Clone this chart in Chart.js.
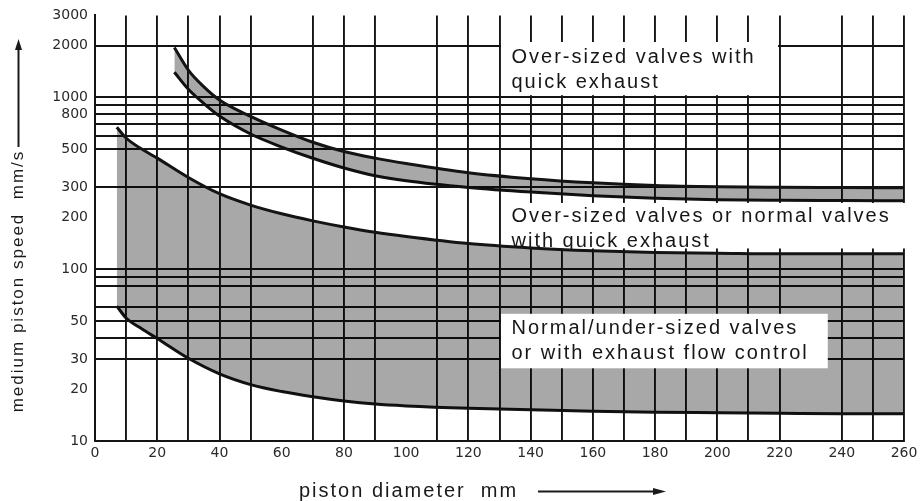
<!DOCTYPE html>
<html>
<head>
<meta charset="utf-8">
<script src="https://cdn.jsdelivr.net/npm/chart.js@4.4.1/dist/chart.umd.min.js"></script>
<style>
  html, body { margin: 0; padding: 0; background: #ffffff; }
  #wrap { width: 923px; height: 501px; }
</style>
</head>
<body>
<div id="wrap"><canvas id="c" width="923" height="501"></canvas></div>
<script>
// ---- data ----
const upperBandX      = [25.5, 30, 35, 40, 50, 60, 70, 80, 90, 100, 120, 140, 160, 180, 200, 220, 240, 260];
const upperBandTop    = [1950, 1440, 1150, 965, 775, 645, 548, 484, 443, 412, 364, 336, 318, 307, 302, 300, 299, 298];
const upperBandBottom = [1400, 1115, 920, 778, 612, 514, 442, 388, 350, 327, 299, 281, 268, 259, 254, 252, 251, 250];

const lowerBandX      = [7, 10, 15, 20, 30, 40, 50, 60, 70, 80, 90, 100, 120, 140, 160, 180, 200, 220, 240, 260];
const lowerBandTop    = [670, 580, 500, 443, 342, 275, 236, 210, 191, 176, 164, 155, 141, 133, 128, 125, 124, 123, 123, 123];
const lowerBandBottom = [61, 52, 45, 39.5, 30.3, 24.6, 21.3, 19.4, 18.1, 17.1, 16.4, 16.0, 15.5, 15.2, 14.9, 14.7, 14.6, 14.5, 14.4, 14.4];

const xLabelValues = [0, 20, 40, 60, 80, 100, 120, 140, 160, 180, 200, 220, 240, 260];
const xNoGridValues = [60, 100, 230];
const yTickValues  = [10, 20, 30, 40, 50, 60, 80, 90, 100, 200, 300, 500, 600, 700, 800, 900, 1000, 2000, 3000];
const yLabelValues = [10, 20, 30, 50, 100, 200, 300, 500, 800, 1000, 2000, 3000];
const yGridValues  = [30, 40, 50, 60, 80, 90, 100, 300, 500, 600, 700, 800, 900, 1000, 2000];

const regionLabels = [
  ["Over-sized valves with", "quick exhaust"],
  ["Over-sized valves or normal valves", "with quick exhaust"],
  ["Normal/under-sized valves", "or with exhaust flow control"]
];
const yTitle = "medium piston speed  mm/s";
const xTitle = "piston diameter  mm";

// ---- build datasets ----
function pts(xs, ys) { return xs.map((x, i) => ({ x: x, y: ys[i] })); }
const FILL = 'rgba(0,0,0,0.34)';
const LINE = '#141414';
const base = { borderColor: LINE, borderWidth: 3, pointRadius: 0, cubicInterpolationMode: 'monotone', backgroundColor: FILL };

const datasets = [
  Object.assign({}, base, { label: 'upperTop', data: pts(upperBandX, upperBandTop), fill: '+1' }),
  Object.assign({}, base, { label: 'upperBottom', data: pts(upperBandX, upperBandBottom), fill: false }),
  Object.assign({}, base, { label: 'lowerTop', data: pts(lowerBandX, lowerBandTop), fill: '+1' }),
  Object.assign({}, base, { label: 'lowerBottom', data: pts(lowerBandX, lowerBandBottom), fill: false })
];

// label boxes (in data units)
const boxes = [
  { x0: 130, x1: 220, y0: 2100, y1: 1030, ty: 1700, lines: regionLabels[0], layer: 'before', padR: -1.5 },
  { x0: 130, x1: 260, y0: 243, y1: 132, ty: 204, lines: regionLabels[1], layer: 'before', padR: 3 },
  { x0: 130, x1: 235.5, y0: 55, y1: 26.5, ty: 45.2, lines: regionLabels[2], layer: 'after', padR: 0 }
];

const LABEL_FONT = '20px "Liberation Sans", Arial, sans-serif';

function drawBox(chart, b) {
  const ctx = chart.ctx, xs = chart.scales.x, ys = chart.scales.y;
  const l = xs.getPixelForValue(b.x0) + 1.5;
  const r = xs.getPixelForValue(b.x1) + b.padR;
  const t = ys.getPixelForValue(b.y0);
  const bt = ys.getPixelForValue(b.y1);
  ctx.save();
  ctx.fillStyle = '#ffffff';
  ctx.fillRect(l, t, r - l, bt - t);
  ctx.restore();
}
function drawBoxText(chart, b) {
  const ctx = chart.ctx, xs = chart.scales.x, ys = chart.scales.y;
  const l = xs.getPixelForValue(b.x0) + 12;
  const y = ys.getPixelForValue(b.ty);
  ctx.save();
  ctx.font = LABEL_FONT;
  ctx.letterSpacing = '2px';
  ctx.fillStyle = '#161616';
  ctx.textAlign = 'left';
  ctx.textBaseline = 'middle';
  b.lines.forEach((s, i) => ctx.fillText(s, l, y + i * 25));
  ctx.restore();
}

const decor = {
  id: 'decor',
  beforeDatasetsDraw(chart) {
    boxes.filter(b => b.layer === 'before').forEach(b => drawBox(chart, b));
  },
  afterDatasetsDraw(chart) {
    boxes.filter(b => b.layer === 'after').forEach(b => drawBox(chart, b));
    boxes.forEach(b => drawBoxText(chart, b));
  },
  afterDraw(chart) {
    const ctx = chart.ctx;
    ctx.save();
    ctx.fillStyle = '#1a1a1a';
    ctx.strokeStyle = '#1a1a1a';
    ctx.letterSpacing = '2px';
    // y title
    ctx.save();
    ctx.translate(18, 281);
    ctx.rotate(-Math.PI / 2);
    ctx.font = '17px "Liberation Sans", Arial, sans-serif';
    ctx.textAlign = 'center';
    ctx.textBaseline = 'middle';
    ctx.fillText(yTitle, 0, 0);
    ctx.restore();
    // y arrow
    ctx.lineWidth = 2;
    ctx.beginPath(); ctx.moveTo(18.5, 147); ctx.lineTo(18.5, 48); ctx.stroke();
    ctx.beginPath(); ctx.moveTo(18.5, 39); ctx.lineTo(15, 50); ctx.lineTo(22, 50); ctx.closePath(); ctx.fill();
    // x title
    ctx.font = '20px "Liberation Sans", Arial, sans-serif';
    ctx.textAlign = 'left';
    ctx.textBaseline = 'middle';
    ctx.fillText(xTitle, 299, 491);
    ctx.beginPath(); ctx.moveTo(538, 491.5); ctx.lineTo(655, 491.5); ctx.stroke();
    ctx.beginPath(); ctx.moveTo(666, 491.5); ctx.lineTo(653, 488); ctx.lineTo(653, 495); ctx.closePath(); ctx.fill();
    ctx.restore();
  }
};

const GRID = '#141414';
const TICK_FONT = { family: 'DejaVu Sans', size: 14 };
new Chart(document.getElementById('c'), {
  type: 'line',
  data: { datasets: datasets },
  options: {
    responsive: false,
    animation: false,
    devicePixelRatio: 1,
    layout: { padding: { left: 0, right: 19, top: 10, bottom: 0 } },
    plugins: { legend: { display: false }, tooltip: { enabled: false } },
    scales: {
      x: {
        type: 'linear', min: 0, max: 260,
        afterBuildTicks(scale) {
          const t = [];
          for (let v = 0; v <= 260; v += 10) t.push({ value: v });
          scale.ticks = t;
        },
        afterFit(scale) { scale.height = 60; },
        ticks: {
          autoSkip: false, maxRotation: 0, padding: 4,
          color: '#2a2a2a', font: TICK_FONT,
          callback: (v) => xLabelValues.includes(v) ? String(v) : ''
        },
        grid: {
          drawTicks: false,
          lineWidth: 1.9,
          color: (c) => (c.tick && (xNoGridValues.includes(c.tick.value) || c.tick.value === 0)) ? 'rgba(0,0,0,0)' : GRID
        },
        border: { display: true, color: GRID, width: 2 }
      },
      y: {
        type: 'logarithmic', min: 10, max: 3000,
        afterBuildTicks(scale) { scale.ticks = yTickValues.map(v => ({ value: v })); },
        afterFit(scale) { scale.width = 95; },
        ticks: {
          autoSkip: false, padding: 7,
          color: '#2a2a2a', font: TICK_FONT,
          callback: (v) => yLabelValues.includes(v) ? String(v) : ''
        },
        grid: {
          drawTicks: false,
          lineWidth: 1.9,
          color: (c) => (c.tick && yGridValues.includes(c.tick.value)) ? GRID : 'rgba(0,0,0,0)'
        },
        border: { display: true, color: GRID, width: 2 }
      }
    }
  },
  plugins: [decor]
});
</script>
</body>
</html>
